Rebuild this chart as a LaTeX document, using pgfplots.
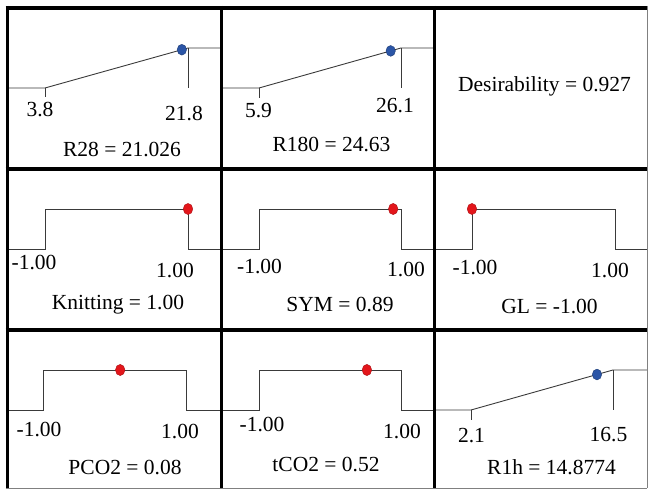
\documentclass[border=0pt]{standalone}
\usepackage{pgfplots}
\pgfplotsset{compat=1.18}
\usepackage{fontspec}
\setmainfont{Liberation Serif}
\newfontfamily\tnr{Liberation Serif}
\definecolor{curve}{HTML}{3A3A3A}
\definecolor{dotblue}{HTML}{2B55A6}
\definecolor{dotred}{HTML}{E3161B}
\pgfplotsset{
  cell/.style={hide axis, scale only axis, clip=false, anchor=north west,
    ymax=2, ymin=-2.025, height=161pt},
  curvestyle/.style={color=curve, line width=0.9pt, mark=none},
  bluedot/.style={only marks, mark=*, mark size=5.4pt,
    mark options={fill=dotblue, draw=dotblue!70!black, line width=0.4pt, xscale=0.87}},
  reddot/.style={only marks, mark=*, mark size=5.6pt,
    mark options={fill=dotred, draw=dotred!75!black, line width=0.4pt, xscale=0.85}},
}
\begin{document}
\begin{tikzpicture}[every node/.style={font=\tnr\fontsize{21.5pt}{24pt}\selectfont, inner sep=0pt, anchor=base}]
\path[use as bounding box] (0pt,0pt) rectangle (648pt,490pt);

% ---------- Row 1 ----------
\begin{axis}[cell, at={(7pt,482pt)}, width=214pt, xmin=-0.983, xmax=25.954]
\addplot[curvestyle] coordinates {(-0.983,0) (3.8,0) (21.8,1) (25.954,1)};
\addplot[curvestyle] coordinates {(3.8,0) (3.8,-0.23)};
\addplot[curvestyle] coordinates {(21.8,1) (21.8,0)};
\addplot[bluedot] coordinates {(21.026,0.957)};
\end{axis}

\begin{axis}[cell, at={(221pt,482pt)}, width=213pt, xmin=0.494, xmax=30.794]
\addplot[curvestyle] coordinates {(0.494,0) (5.9,0) (26.1,1) (30.794,1)};
\addplot[curvestyle] coordinates {(5.9,0) (5.9,-0.25)};
\addplot[curvestyle] coordinates {(26.1,1) (26.1,0)};
\addplot[bluedot] coordinates {(24.63,0.927)};
\end{axis}

% ---------- Row 2 ----------
\begin{axis}[cell, at={(7pt,321pt)}, width=214pt, xmin=-1.531, xmax=1.4615]
\addplot[curvestyle] coordinates {(-1.531,0) (-1,0) (-1,1) (1,1) (1,0) (1.4615,0)};
\addplot[reddot] coordinates {(1.00,1)};
\end{axis}

\begin{axis}[cell, at={(221pt,321pt)}, width=213pt, xmin=-1.535, xmax=1.465]
\addplot[curvestyle] coordinates {(-1.535,0) (-1,0) (-1,1) (1,1) (1,0) (1.465,0)};
\addplot[reddot] coordinates {(0.89,1)};
\end{axis}

\begin{axis}[cell, at={(434pt,321pt)}, width=213pt, xmin=-1.531, xmax=1.4476]
\addplot[curvestyle] coordinates {(-1.531,0) (-1,0) (-1,1) (1,1) (1,0) (1.4476,0)};
\addplot[reddot] coordinates {(-1.00,1)};
\end{axis}

% ---------- Row 3 ----------
\begin{axis}[cell, at={(7pt,160pt)}, width=214pt, height=157pt, ymin=-1.925, xmin=-1.503, xmax=1.49]
\addplot[curvestyle] coordinates {(-1.503,0) (-1,0) (-1,1) (1,1) (1,0) (1.49,0)};
\addplot[reddot] coordinates {(0.08,1)};
\end{axis}

\begin{axis}[cell, at={(221pt,160pt)}, width=213pt, height=157pt, ymin=-1.925, xmin=-1.535, xmax=1.465]
\addplot[curvestyle] coordinates {(-1.535,0) (-1,0) (-1,1) (1,1) (1,0) (1.465,0)};
\addplot[reddot] coordinates {(0.52,1)};
\end{axis}

\begin{axis}[cell, at={(434pt,160pt)}, width=213pt, height=157pt, ymin=-1.925, xmin=-1.652, xmax=19.948]
\addplot[curvestyle] coordinates {(-1.652,0) (2.1,0) (16.5,1) (19.948,1)};
\addplot[curvestyle] coordinates {(2.1,0) (2.1,-0.25)};
\addplot[curvestyle] coordinates {(16.5,1) (16.5,0)};
\addplot[bluedot] coordinates {(14.8774,0.887)};
\end{axis}

% ---------- Grid frame ----------
\draw[line width=4pt] (5.5pt,482pt) -- (648pt,482pt);
\draw[line width=3.6pt] (5.5pt,321pt) -- (648pt,321pt);
\draw[line width=3.6pt] (5.5pt,160pt) -- (648pt,160pt);
\draw[line width=3pt] (7pt,484pt) -- (7pt,2pt);
\draw[line width=3pt] (221pt,484pt) -- (221pt,2pt);
\draw[line width=3pt] (434pt,484pt) -- (434pt,2pt);
\draw[line width=0.8pt, gray] (647pt,484pt) -- (647pt,2pt);
\draw[line width=0.8pt, gray] (5.5pt,2pt) -- (647pt,2pt);

% ---------- Texts ----------
\node at (40pt,373pt) {3.8};
\node at (184pt,369pt) {21.8};
\node at (122pt,333pt) {R28 = 21.026};

\node at (258.5pt,372pt) {5.9};
\node at (395pt,377pt) {26.1};
\node at (331.5pt,338pt) {R180 = 24.63};

\node at (544.5pt,398pt) {Desirability = 0.927};

\node at (34pt,220pt) {-1.00};
\node at (175pt,212pt) {1.00};
\node at (118pt,180pt) {Knitting = 1.00};

\node at (259.5pt,216pt) {-1.00};
\node at (406pt,213pt) {1.00};
\node at (340pt,178pt) {SYM = 0.89};

\node at (475pt,215pt) {-1.00};
\node at (610pt,212pt) {1.00};
\node at (549.5pt,176pt) {GL = -1.00};

\node at (39pt,53pt) {-1.00};
\node at (180pt,51pt) {1.00};
\node at (125pt,16pt) {PCO2 = 0.08};

\node at (262pt,58pt) {-1.00};
\node at (402pt,51pt) {1.00};
\node at (326pt,18pt) {tCO2 = 0.52};

\node at (471.5pt,47pt) {2.1};
\node at (608.5pt,48pt) {16.5};
\node at (551.5pt,15pt) {R1h = 14.8774};
\end{tikzpicture}
\end{document}
